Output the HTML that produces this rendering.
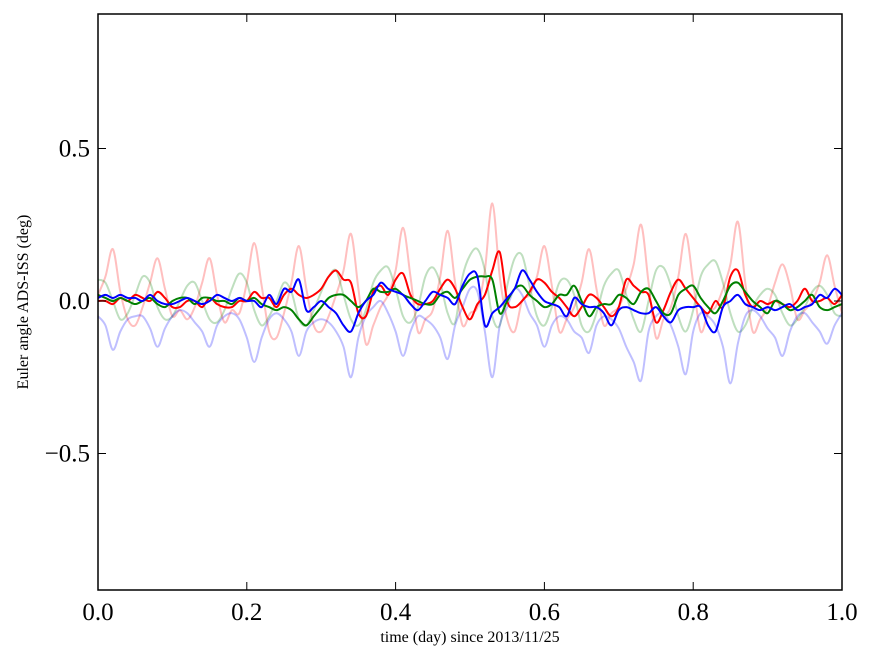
<!DOCTYPE html>
<html><head><meta charset="utf-8"><style>
html,body{margin:0;padding:0;background:#fff;}
svg{display:block;}
text{font-family:"Liberation Serif",serif;}
</style></head><body>
<svg id="chart" width="875" height="662" viewBox="0 0 875 662" xmlns="http://www.w3.org/2000/svg">
<rect x="0" y="0" width="875" height="662" fill="#fff"/>
<g id="series"></g>
<g id="axes"></g>
<text x="470" y="642" font-size="16" text-anchor="middle">time (day) since 2013/11/25</text>
<text x="28" y="302" font-size="16" text-anchor="middle" transform="rotate(-90 28 302)">Euler angle ADS-ISS (deg)</text>
</svg>
<script>
const xTicks=[0.0,0.2,0.4,0.6,0.8,1.0];
const xTickLabels=["0.0","0.2","0.4","0.6","0.8","1.0"];
const yTicks=[0.5,0.0,-0.5];
const yTickLabels=["0.5","0.0","\u22120.5"];
const lightRed=[0.02,0.08,0.17,0.03,-0.06,-0.08,-0.02,0.06,0.14,0.04,-0.05,-0.03,-0.06,-0.02,0.06,0.14,0.02,-0.07,-0.03,-0.04,0.06,0.19,0.05,-0.1,-0.12,-0.04,0.06,0.18,0.04,-0.08,-0.1,-0.05,0.02,0.1,0.22,0.04,-0.14,-0.08,-0.02,0.02,0.1,0.24,0.08,-0.1,-0.06,-0.03,0.08,0.23,0.06,-0.08,-0.04,-0.02,0.1,0.32,0.08,-0.06,-0.1,0.0,0.02,0.08,0.18,0.05,-0.1,-0.06,-0.02,0.06,0.17,0.04,-0.08,-0.04,-0.02,0.04,0.12,0.25,0.06,-0.12,-0.06,-0.02,0.08,0.22,0.06,-0.1,-0.04,-0.02,0.04,0.12,0.26,0.06,-0.1,-0.06,-0.02,0.06,0.12,0.05,-0.06,-0.03,0.0,0.06,0.15,0.05,-0.04];
const lightGreen=[0.07,0.06,0.0,-0.06,-0.04,0.02,0.08,0.06,-0.02,-0.06,-0.05,0.0,0.05,0.06,0.0,-0.06,-0.07,-0.03,0.04,0.09,0.06,-0.03,-0.08,-0.05,0.0,0.06,0.03,-0.06,-0.08,-0.03,0.03,0.08,0.1,0.02,-0.06,-0.08,-0.03,0.06,0.1,0.11,0.04,-0.05,-0.07,-0.02,0.08,0.11,0.06,-0.04,-0.07,0.08,0.15,0.17,0.1,-0.05,-0.08,0.05,0.14,0.15,0.05,-0.05,-0.08,-0.02,0.06,0.07,0.02,-0.08,-0.1,-0.04,0.05,0.09,0.1,0.02,-0.06,-0.1,0.0,0.1,0.11,0.05,-0.05,-0.1,-0.03,0.08,0.12,0.13,0.06,-0.04,-0.1,-0.08,-0.02,0.02,0.04,0.02,-0.04,-0.08,-0.06,-0.02,0.03,0.05,0.02,-0.04,-0.05];
const lightBlue=[-0.05,-0.08,-0.16,-0.1,-0.06,-0.05,-0.05,-0.09,-0.15,-0.09,-0.05,-0.03,-0.04,-0.07,-0.1,-0.15,-0.08,-0.05,-0.04,-0.06,-0.12,-0.2,-0.12,-0.06,-0.04,-0.06,-0.1,-0.18,-0.1,-0.07,-0.06,-0.07,-0.1,-0.15,-0.25,-0.12,-0.05,-0.02,0.0,-0.04,-0.1,-0.18,-0.1,-0.05,-0.06,-0.08,-0.12,-0.19,-0.08,-0.02,0.04,0.03,-0.1,-0.25,-0.08,-0.02,0.04,0.02,-0.04,-0.08,-0.15,-0.08,-0.05,-0.06,-0.1,-0.12,-0.17,-0.08,-0.05,-0.06,-0.09,-0.15,-0.2,-0.26,-0.1,-0.05,-0.04,-0.08,-0.15,-0.24,-0.1,-0.04,-0.05,-0.08,-0.15,-0.27,-0.14,-0.05,-0.03,-0.05,-0.09,-0.12,-0.18,-0.1,-0.05,-0.04,-0.07,-0.1,-0.14,-0.08,-0.04];
const red=[0.0,0.0,-0.01,0.01,0.0,0.02,0.01,0.0,0.03,0.01,-0.02,-0.02,0.0,0.0,-0.02,0.01,-0.01,-0.02,-0.02,0.0,0.0,0.03,0.01,0.01,-0.02,0.02,0.04,0.02,0.01,0.02,0.04,0.08,0.1,0.07,0.06,-0.04,-0.05,0.03,0.05,0.02,0.07,0.09,0.02,-0.01,-0.01,0.0,0.04,0.07,0.04,-0.02,-0.06,-0.01,0.02,0.1,0.16,0.0,-0.02,0.0,0.03,0.07,0.06,0.03,0.01,-0.02,-0.05,-0.02,0.02,0.01,-0.02,-0.05,-0.02,0.07,0.05,0.03,0.02,-0.07,-0.03,0.03,0.07,0.04,0.01,-0.02,-0.04,0.0,-0.02,0.08,0.1,0.02,-0.02,0.0,-0.01,0.0,-0.01,-0.02,0.0,0.04,0.0,0.0,0.01,-0.01,0.02];
const green=[0.02,0.01,0.0,0.01,0.0,-0.01,0.0,0.01,-0.01,-0.02,0.0,0.01,0.01,-0.01,0.01,0.01,0.0,0.0,-0.01,0.01,0.0,0.01,-0.01,-0.02,-0.03,-0.02,-0.03,-0.06,-0.08,-0.05,-0.02,0.01,0.02,0.02,0.0,-0.02,0.0,0.04,0.03,0.03,0.04,0.02,0.01,0.0,-0.01,-0.01,0.02,0.03,0.01,0.04,0.07,0.08,0.08,0.07,-0.04,0.0,0.04,0.05,0.02,0.0,-0.02,-0.01,0.02,0.02,0.05,0.0,-0.05,-0.02,-0.01,-0.01,0.02,0.01,-0.01,0.03,0.04,0.0,-0.04,-0.04,0.02,0.04,0.05,0.01,-0.02,-0.04,0.0,0.05,0.06,0.03,0.0,-0.02,-0.04,0.0,-0.01,-0.03,-0.02,0.0,0.02,-0.02,-0.03,-0.02,-0.01];
const blue=[0.01,0.02,0.01,0.02,0.01,0.01,0.0,0.02,0.0,-0.01,-0.01,0.0,0.01,0.0,-0.01,0.0,0.02,0.01,0.0,0.01,0.0,0.0,-0.02,0.02,-0.01,0.04,0.03,0.07,-0.03,-0.02,0.0,-0.02,-0.04,-0.08,-0.1,-0.04,0.0,0.02,0.06,0.04,0.03,0.02,-0.01,-0.03,0.0,0.03,0.02,0.01,-0.01,0.05,0.09,0.08,-0.08,-0.04,-0.02,0.01,0.04,0.1,0.07,0.03,0.0,-0.01,-0.02,-0.05,0.01,-0.01,-0.02,-0.02,-0.04,-0.08,-0.03,-0.02,-0.03,-0.04,-0.04,-0.02,-0.05,-0.07,-0.03,-0.02,-0.02,-0.02,-0.08,-0.1,-0.02,0.0,0.02,-0.01,-0.02,-0.03,-0.02,-0.03,-0.02,-0.01,-0.03,-0.02,-0.01,0.02,0.01,0.04,0.02];

const L=98,R=842,T=14,B=590;
function xs(v){return L+v*(R-L);}
function ys(v){return 301-v*305;}
const NS="http://www.w3.org/2000/svg";
const sg=document.getElementById('series');
function draw(arr,color,op,name){
  const n=arr.length;
  const P=arr.map((v,i)=>[xs(i/(n-1)),ys(v)]);
  let d="M"+P[0][0].toFixed(2)+","+P[0][1].toFixed(2);
  for(let i=0;i<n-1;i++){
    const p0=P[Math.max(0,i-1)],p1=P[i],p2=P[i+1],p3=P[Math.min(n-1,i+2)];
    const c1x=p1[0]+(p2[0]-p0[0])/6,c1y=p1[1]+(p2[1]-p0[1])/6;
    const c2x=p2[0]-(p3[0]-p1[0])/6,c2y=p2[1]-(p3[1]-p1[1])/6;
    d+="C"+c1x.toFixed(2)+","+c1y.toFixed(2)+" "+c2x.toFixed(2)+","+c2y.toFixed(2)+" "+p2[0].toFixed(2)+","+p2[1].toFixed(2);
  }
  const p=document.createElementNS(NS,'path');
  p.setAttribute('d',d);p.setAttribute('fill','none');p.setAttribute('stroke',color);
  p.setAttribute('stroke-width','2');p.setAttribute('stroke-opacity',op);p.setAttribute('stroke-linejoin','round');
  
  
  sg.appendChild(p);
}
draw(lightRed,'#ff0000',0.25,'light-red-series');
draw(lightGreen,'#008000',0.25,'light-green-series');
draw(lightBlue,'#0000ff',0.25,'light-blue-series');
draw(red,'#ff0000',1,'red-series');
draw(green,'#008000',1,'green-series');
draw(blue,'#0000ff',1,'blue-series');

const ag=document.getElementById('axes');
function el(tag,attrs){const e=document.createElementNS(NS,tag);for(const k in attrs)e.setAttribute(k,attrs[k]);ag.appendChild(e);return e;}
const frame=el('rect',{x:L,y:T,width:R-L,height:B-T,fill:'none',stroke:'#000','stroke-width':1.5});


xTicks.forEach((v,i)=>{
  const x=xs(v);
  const t1=el('line',{x1:x,y1:B,x2:x,y2:B-8,stroke:'#000','stroke-width':1});
  
  
  const t2=el('line',{x1:x,y1:T,x2:x,y2:T+8,stroke:'#000','stroke-width':1});
  
  
  const tx=el('text',{x:x,y:B+30,'font-size':25,'text-anchor':'middle'});
  tx.textContent=xTickLabels[i];
  
  
});
yTicks.forEach((v,i)=>{
  const y=ys(v);
  const t1=el('line',{x1:L,y1:y,x2:L+8,y2:y,stroke:'#000','stroke-width':1});
  
  
  const t2=el('line',{x1:R,y1:y,x2:R-8,y2:y,stroke:'#000','stroke-width':1});
  
  
  const tx=el('text',{x:L-8,y:y+8,'font-size':25,'text-anchor':'end'});
  tx.textContent=yTickLabels[i];
  
  
});
</script>
</body></html>
